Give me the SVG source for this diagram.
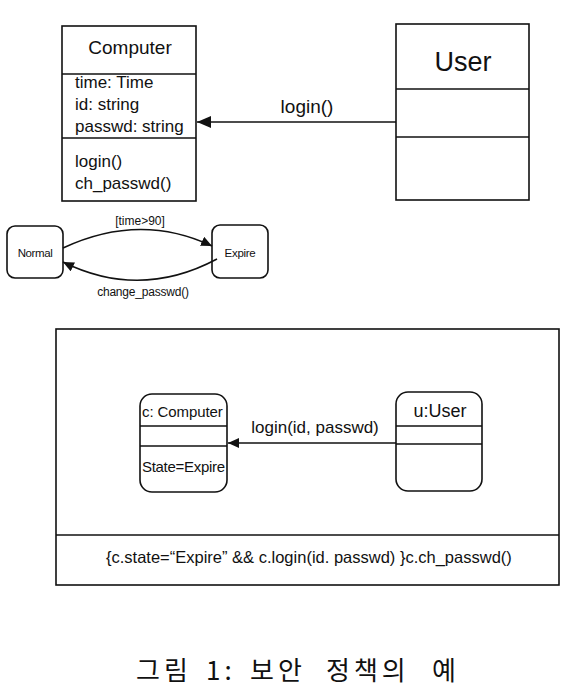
<svg xmlns="http://www.w3.org/2000/svg" width="583" height="691" viewBox="0 0 583 691">
<defs>
<style>
.box{fill:#fff;stroke:#111;stroke-width:1.6}
.ln{fill:none;stroke:#111;stroke-width:1.6}
.t{font-family:"Liberation Sans",Arial,sans-serif;fill:#111}
.cap{font-family:"Noto Sans CJK KR",sans-serif;fill:#111;font-size:26px;letter-spacing:4px}
</style>
<marker id="ah" viewBox="0 0 14 12" refX="14" refY="6" markerWidth="14" markerHeight="12" markerUnits="userSpaceOnUse" orient="auto">
<path d="M0,0 L14,6 L0,12 Z" fill="#111"/>
</marker>
<marker id="ahs" viewBox="0 0 11 10" refX="11" refY="5" markerWidth="11" markerHeight="10" markerUnits="userSpaceOnUse" orient="auto">
<path d="M0,0 L11,5 L0,10 Z" fill="#111"/>
</marker>
</defs>
<rect width="583" height="691" fill="#fff"/>

<g id="computer-class">
<rect class="box" x="62" y="26" width="134" height="175"/>
<line class="ln" x1="62" y1="74" x2="196" y2="74"/>
<line class="ln" x1="62" y1="138" x2="196" y2="138"/>
<text class="t" x="130" y="54" font-size="19" text-anchor="middle">Computer</text>
<text class="t" x="75" y="88" font-size="17">time: Time</text>
<text class="t" x="75" y="110" font-size="17">id: string</text>
<text class="t" x="75" y="132" font-size="17">passwd: string</text>
<text class="t" x="75" y="167" font-size="17">login()</text>
<text class="t" x="75" y="189" font-size="17">ch_passwd()</text>
</g>

<g id="user-class">
<rect class="box" x="396" y="24" width="133" height="176"/>
<line class="ln" x1="396" y1="89" x2="529" y2="89"/>
<line class="ln" x1="396" y1="137" x2="529" y2="137"/>
<text class="t" x="463" y="71" font-size="27" text-anchor="middle">User</text>
</g>

<g id="state-normal">
<rect class="box" x="7" y="226" width="56" height="52" rx="8"/>
<text class="t" x="35" y="257" font-size="11.5" text-anchor="middle" letter-spacing="-0.4">Normal</text>
</g>
<g id="state-expire">
<rect class="box" x="212" y="225" width="56" height="53" rx="8"/>
<text class="t" x="240" y="257" font-size="11.5" text-anchor="middle" letter-spacing="-0.3">Expire</text>
</g>

<g id="frame">
<rect class="box" x="56" y="329" width="503" height="256"/>
<line class="ln" x1="56" y1="535" x2="559" y2="535"/>
<text class="t" x="106" y="563" font-size="16.5">{c.state=“Expire” &amp;&amp; c.login(id. passwd) }c.ch_passwd()</text>
</g>

<g id="c-computer">
<rect class="box" x="140" y="394" width="87" height="98" rx="12"/>
<line class="ln" x1="140" y1="426" x2="227" y2="426"/>
<line class="ln" x1="140" y1="446" x2="227" y2="446"/>
<text class="t" x="142" y="417" font-size="15" letter-spacing="-0.1">c: Computer</text>
<text class="t" x="142" y="472" font-size="15" letter-spacing="-0.3">State=Expire</text>
</g>

<g id="u-user">
<rect class="box" x="396" y="392" width="86" height="99" rx="12"/>
<line class="ln" x1="396" y1="426" x2="482" y2="426"/>
<line class="ln" x1="396" y1="444" x2="482" y2="444"/>
<text class="t" x="440" y="417" font-size="18" text-anchor="middle">u:User</text>
</g>

<g id="connectors">
<line class="ln" x1="396" y1="122" x2="197" y2="122" marker-end="url(#ah)"/>
<text class="t" x="307" y="113" font-size="19" text-anchor="middle">login()</text>
<path class="ln" d="M63,248 Q140,212 212,246" marker-end="url(#ahs)"/>
<text class="t" x="140" y="225" font-size="12" text-anchor="middle">[time&gt;90]</text>
<path class="ln" d="M217,259 Q140,300 63,262" marker-end="url(#ahs)"/>
<text class="t" x="143" y="296" font-size="12" text-anchor="middle" letter-spacing="-0.2">change_passwd()</text>
<line class="ln" x1="396" y1="443" x2="228" y2="443" marker-end="url(#ahs)"/>
<text class="t" x="315" y="433" font-size="17" text-anchor="middle">login(id, passwd)</text>
</g>

<text class="cap" y="680"><tspan x="136">그림</tspan><tspan x="206">1:</tspan><tspan x="250">보안</tspan><tspan x="326">정책의</tspan><tspan x="432">예</tspan></text>
</svg>
